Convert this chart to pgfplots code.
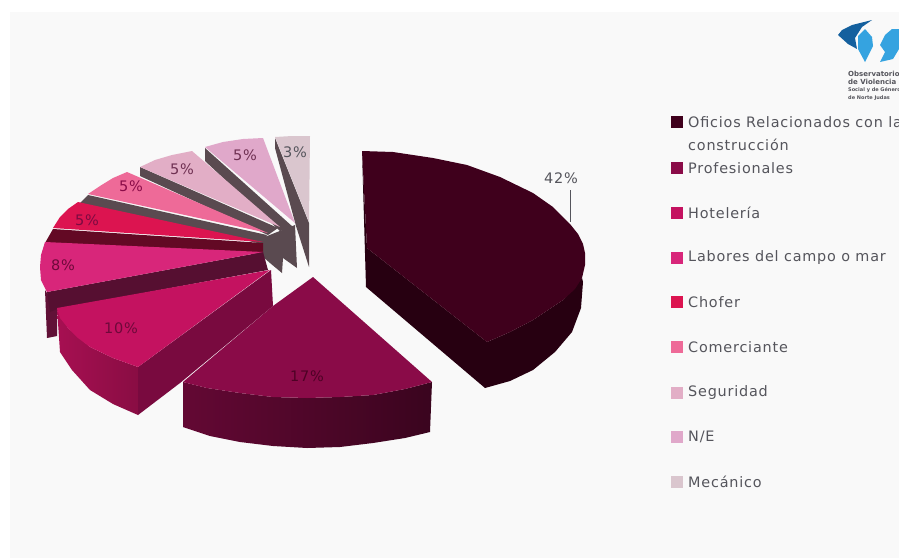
\documentclass[border=0pt]{standalone}
\usepackage{pgfplots}
\usepackage{fontspec}
\pgfplotsset{compat=1.18}
\setmainfont{DejaVu Sans}
\newfontfamily\legfont[LetterSpace=5.5]{DejaVu Sans}
\newcommand{\poly}[2]{\addplot[draw=none,fill=#1] coordinates {#2};}
\newcommand{\grad}[3]{\addplot[draw=none,left color=#1,right color=#2] coordinates {#3};}
\newcommand{\leg}[3]{\addplot[only marks,mark=square*,mark size=5.5pt,color=#1] coordinates {(677,#2)};
  \node[anchor=west,text=txt,font=\legfont\fontsize{14.4}{14.4}\selectfont,inner sep=0pt] at (axis cs:688,#2) {#3};}
\newcommand{\pct}[4]{\node[text=#4,font=\legfont\fontsize{14.5}{15}\selectfont,inner sep=0pt] at (axis cs:#1,#2) {#3};}
\newcommand{\logotext}[3]{\node[anchor=west,text=txt,font=\bfseries\fontsize{#2}{#2}\selectfont,inner sep=0pt] at (axis cs:848,#1) {#3};}
\definecolor{txt}{HTML}{55555C}
\definecolor{bg}{HTML}{F9F9F9}
\definecolor{oficios}{HTML}{3F001C}
\definecolor{prof}{HTML}{8A0B48}
\definecolor{hotel}{HTML}{C41260}
\definecolor{labores}{HTML}{D8267A}
\definecolor{chofer}{HTML}{DC1450}
\definecolor{comer}{HTML}{EE6A98}
\definecolor{segur}{HTML}{E2AEC6}
\definecolor{ne}{HTML}{E0A8CA}
\definecolor{meca}{HTML}{DAC6CE}
\definecolor{under}{HTML}{5A4A50}
\definecolor{logodark}{HTML}{14609E}
\definecolor{logolight}{HTML}{35A3E0}
\begin{document}
\begin{tikzpicture}
\useasboundingbox (0,0) rectangle (899pt,558pt);
\clip (0,0) rectangle (899pt,558pt);
\begin{axis}[
    at={(0,0)}, anchor=south west,
    x=1pt, y=1pt,
    xmin=0, xmax=899, ymin=0, ymax=558,
    y dir=reverse,
    hide axis,
    clip mode=individual,
]
% background
\poly{white}{(0,0) (899,0) (899,558) (0,558)}
\poly{bg}{(10,12) (899,12) (899,558) (10,558)}

% 3% .. 5% slices, back to front
\poly{under}{(275,138) (309,223) (309,267) (296,226) (275,148)}
\poly{under}{(262,238) (295,225) (297,268) (283,258) (282,273) (270,263) (262,256)}
\poly{meca}{(275,137) (292,136) (310,136) (309,222)}
\poly{under}{(205,148) (293,227) (280,231) (205,161)}
\poly{ne}{(205,147) (223,142) (243,139) (263,138) (295,223)}
\poly{under}{(140,167) (278,228) (268,235) (140,176)}
\poly{segur}{(140,167) (155,160) (172,155) (192,151) (280,227)}
\poly{under}{(88,195) (267,235) (262,244) (80,203)}
\poly{comer}{(88,194) (100,186) (113,178) (127,172) (268,233)}
\addplot[draw=none,fill=black!55!chofer] coordinates {(53,229) (263,243) (263,254) (45,243)};
\poly{chofer}{(53,228) (60,217) (68,209) (78,202) (263,242)}

% 8%
\poly{black!55!labores}{(45,290) (47,338) (57,336) (57,308)}
\poly{black!60!labores}{(47,292) (263,252) (268,270) (57,309) (50,312)}
\poly{labores}{(45,242) (41,255) (40,267) (41,280) (47,292) (263,252)}

% 17%
\grad{prof!72!black}{prof!42!black}{(183,382) (207,388) (240,393) (273,397) (307,398) (340,397) (373,395) (405,389) (432,382) (430,432) (405,438) (373,443) (340,447) (307,448) (273,446) (240,442) (210,436) (183,427)}
\poly{prof}{(313,277) (432,382) (405,389) (373,395) (340,397) (307,398) (273,397) (240,393) (207,388) (183,382) (273,306)}

% 10%
\grad{hotel!85!black}{hotel!70!black}{(57,308) (60,352) (72,370) (90,390) (113,404) (138,415) (138,367) (113,358) (90,347) (68,328)}
\poly{prof!88!black}{(138,367) (138,415) (180,383) (273,306) (271,270)}
\poly{hotel}{(270,270) (57,308) (60,318) (68,328) (78,338) (90,347) (113,358) (138,367)}

% 42%
\poly{oficios!62!black}{(362,151) (367,248) (487,342) (510,332) (533,320) (563,300) (582,278) (583,282) (581,308) (572,332) (555,352) (533,370) (510,381) (485,388) (366,287)}
\poly{oficios}{(362,151) (393,152) (433,158) (467,165) (500,177) (533,193) (553,207) (570,224) (578,234) (583,244) (585,253) (585,265) (582,278) (575,289) (563,300) (533,320) (510,332) (487,342) (367,248)}
\addplot[draw=txt,line width=0.9pt] coordinates {(570,190) (570,222)};

% slice labels
\pct{561}{178}{42\%}{txt}
\pct{307}{376}{17\%}{oficios!80!prof}
\pct{121}{328}{10\%}{prof!80!black}
\pct{63}{265}{8\%}{prof!80!black}
\pct{87}{220}{5\%}{prof!90!black}
\pct{131}{186}{5\%}{prof}
\pct{182}{169}{5\%}{prof!50!txt}
\pct{245}{155}{5\%}{prof!50!txt}
\pct{295}{152}{3\%}{txt}

% legend
\leg{oficios}{122}{Oficios Relacionados con la}
\node[anchor=west,text=txt,font=\legfont\fontsize{14.4}{14.4}\selectfont,inner sep=0pt] at (axis cs:688,145) {construcción};
\leg{prof}{168}{Profesionales}
\leg{hotel}{213}{Hotelería}
\leg{labores}{258}{Labores del campo o mar}
\leg{chofer}{302}{Chofer}
\leg{comer}{347}{Comerciante}
\leg{segur}{393}{Seguridad}
\leg{ne}{437}{N/E}
\leg{meca}{482}{Mecánico}

% logo
\poly{logodark}{(872,20) (852,25) (842,30) (838,35) (848,44) (857,49) (855,38) (862,27)}
\poly{logolight}{(865,29) (858,36) (858,49) (865,62) (873,46) (872,37)}
\poly{logolight}{(885,35) (880,45) (885,52) (880,62) (893,59) (899,49) (899,29) (892,29)}
\logotext{74}{7}{Observatorio}
\logotext{82}{7}{de Violencia}
\logotext{90}{5}{Social y de Género}
\logotext{98}{5}{de Norte Judas}
\end{axis}
\end{tikzpicture}
\end{document}
